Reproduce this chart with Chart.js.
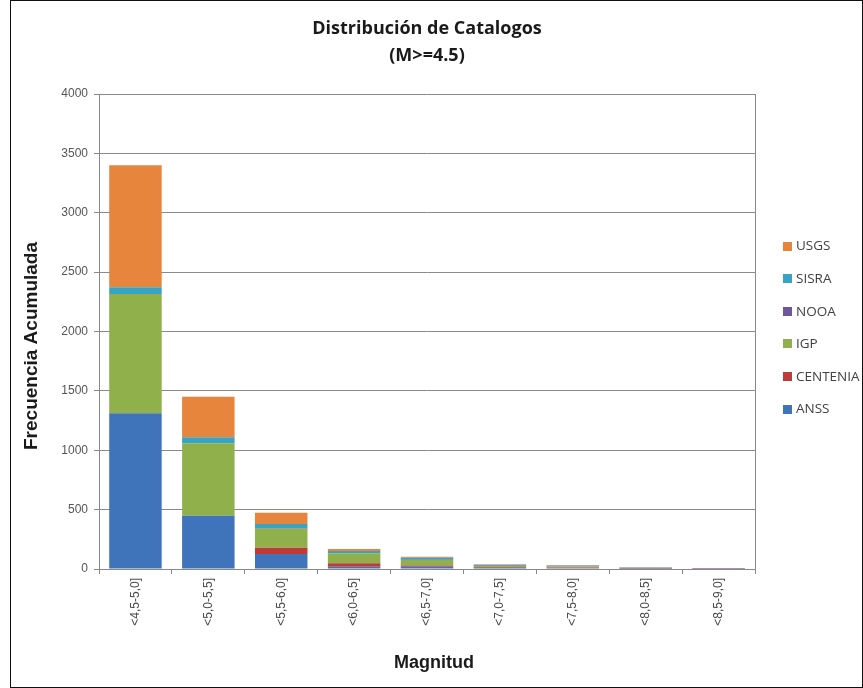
<!DOCTYPE html>
<html>
<head>
<meta charset="utf-8">
<script src="https://cdn.jsdelivr.net/npm/chart.js@4"></script>
<style>
  html, body { margin: 0; padding: 0; background: #ffffff; }
  #wrap { width: 863px; height: 688px; position: relative; }
</style>
</head>
<body>
<div id="wrap"><canvas id="c" width="863" height="688"></canvas></div>
<script>
// Magnitude bins (x axis)
const categories = ['<4,5-5,0]', '<5,0-5,5]', '<5,5-6,0]', '<6,0-6,5]', '<6,5-7,0]', '<7,0-7,5]', '<7,5-8,0]', '<8,0-8,5]', '<8,5-9,0]'];

// Cumulative frequency per catalogue, stacked bottom to top
const anss     = [1311, 449, 126, 20, 18, 8, 7, 3, 2];
const centenia = [0, 0, 54, 28, 12, 6, 6, 3, 2];
const igp      = [1005, 609, 160, 84, 46, 12, 8, 2, 1];
const nooa     = [0, 0, 3, 2, 2, 2, 2, 1, 1];
const sisra    = [56, 51, 36, 18, 17, 8, 7, 3, 1];
const usgs     = [1028, 342, 95, 16, 9, 4, 4, 2, 1];

// Y axis ticks
const yTicks = [0, 500, 1000, 1500, 2000, 2500, 3000, 3500, 4000];

const seriesNames = ['ANSS', 'CENTENIA', 'IGP', 'NOOA', 'SISRA', 'USGS'];
const seriesData = [anss, centenia, igp, nooa, sisra, usgs];
const seriesColors = ['#3f74ba', '#bf3b3a', '#8fb04b', '#6e559c', '#37a4c3', '#e8853c'];

const yTitle = 'Frecuencia Acumulada';
const xTitle = 'Magnitud';

const datasets = seriesNames.map((name, i) => ({
  label: name,
  data: seriesData[i],
  backgroundColor: seriesColors[i],
  borderWidth: 0,
  stack: 'cat',
  barPercentage: 0.72,
  categoryPercentage: 1.0
}));

// White background, plot-area right edge, figure frame, axis titles and legend
const framePlugin = {
  id: 'frame',
  beforeDraw(chart) {
    const ctx = chart.ctx;
    ctx.save();
    ctx.fillStyle = '#ffffff';
    ctx.fillRect(0, 0, chart.width, chart.height);
    ctx.restore();
  },
  afterDraw(chart) {
    const ctx = chart.ctx;
    const a = chart.chartArea;
    ctx.save();
    ctx.strokeStyle = '#888888';
    ctx.lineWidth = 1;
    ctx.beginPath();
    ctx.moveTo(Math.round(a.right) + 0.5, a.top);
    ctx.lineTo(Math.round(a.right) + 0.5, a.bottom);
    ctx.stroke();
    ctx.strokeStyle = '#111111';
    ctx.strokeRect(10.5, 0.5, chart.width - 11, chart.height - 1);

    // axis titles
    ctx.fillStyle = '#1a1a1a';
    ctx.textAlign = 'center';
    ctx.textBaseline = 'middle';
    ctx.font = 'bold 19px "Liberation Sans"';
    ctx.save();
    ctx.translate(32, 346);
    ctx.rotate(-Math.PI / 2);
    ctx.fillText(yTitle, 0, 0);
    ctx.restore();
    ctx.font = 'bold 18px "Liberation Sans"';
    ctx.fillText(xTitle, 434, 663);

    // legend, top series first
    ctx.textAlign = 'left';
    ctx.font = '13.5px "Open Sans"';
    const ds = chart.data.datasets;
    const boxX = a.right + 28, rowGap = 32.6, firstY = 246;
    for (let k = 0; k < ds.length; k++) {
      const d = ds[ds.length - 1 - k];
      const cy = firstY + k * rowGap;
      ctx.fillStyle = d.backgroundColor;
      ctx.fillRect(boxX, Math.round(cy - 4.5), 9, 9);
      ctx.fillStyle = '#404040';
      ctx.fillText(d.label, boxX + 13, cy + 0.5);
    }
    ctx.restore();
  }
};

new Chart(document.getElementById('c'), {
  type: 'bar',
  data: { labels: categories, datasets },
  plugins: [framePlugin],
  options: {
    responsive: false,
    animation: false,
    layout: { padding: { left: 12, right: 0, top: 0, bottom: 12 } },
    plugins: {
      title: {
        display: true,
        text: ['Distribución de Catalogos', '(M>=4.5)'],
        fullSize: false,
        color: '#1a1a1a',
        font: { family: 'Open Sans', size: 18, weight: 'bold', lineHeight: 1.5 },
        padding: { top: 15, bottom: 25 }
      },
      legend: { display: false },
      tooltip: { enabled: false }
    },
    scales: {
      x: {
        stacked: true,
        grid: { display: true, drawOnChartArea: false, drawTicks: true, tickLength: 5, color: '#888888', offset: true },
        border: { display: true, color: '#888888' },
        ticks: {
          minRotation: 90, maxRotation: 90, autoSkip: false, padding: 4,
          color: '#4a4a4a',
          font: { family: 'Liberation Sans', size: 12 }
        },
        afterFit(s) { s.height = 107; }
      },
      y: {
        stacked: true,
        min: 0,
        max: 4000,
        afterBuildTicks(s) { s.ticks = yTicks.map(v => ({ value: v })); },
        grid: { color: '#8a8a8a', tickLength: 5 },
        border: { display: true, color: '#888888' },
        ticks: {
          padding: 6,
          color: '#555555',
          font: { family: 'Liberation Sans', size: 12 },
          callback: v => String(v)
        },
        afterFit(s) { s.width = 87; }
      },
      gap: {
        type: 'linear',
        position: 'right',
        display: true,
        grid: { display: false },
        border: { display: false },
        ticks: { display: false },
        afterFit(s) { s.width = 108; }
      }
    }
  }
});
</script>
</body>
</html>
